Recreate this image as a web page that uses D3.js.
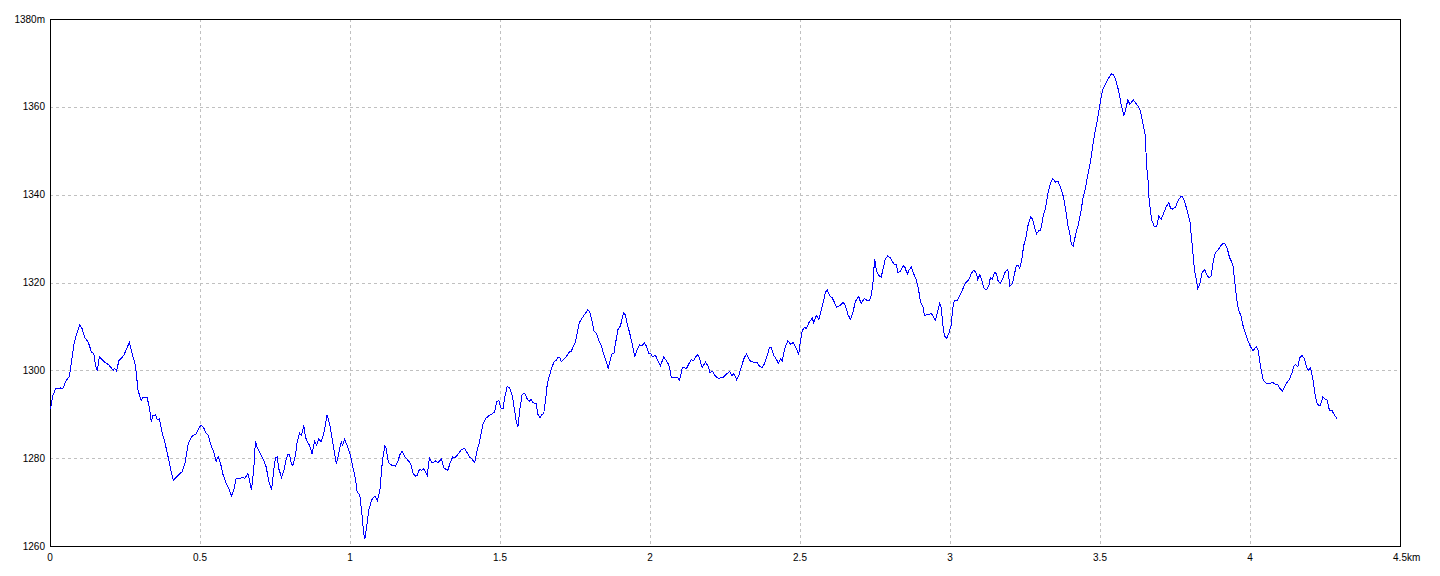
<!DOCTYPE html>
<html>
<head>
<meta charset="utf-8">
<script src="https://cdn.jsdelivr.net/npm/d3@7"></script>
<style>
  html, body { margin: 0; padding: 0; background: #fff; }
  svg { display: block; }
  text { font-family: "Liberation Sans", "DejaVu Sans", sans-serif; font-size: 10px; fill: #000; }
</style>
</head>
<body>
<svg id="chart" width="1440" height="576"></svg>
<script>
// distance along route (km)
const distanceKm = [
0,0.008,0.017,0.033,0.041,0.052,0.063,0.070,0.078,0.089,0.098,0.106,0.114,0.126,0.137,0.144,0.150,0.156,0.163,0.178,0.194,0.209,0.214,0.220,0.228,0.244,0.256,0.263,0.274,0.283,0.292,0.302,0.308,0.322,0.330,0.336,0.341,0.350,0.356,0.363,0.372,0.381,0.392,0.400,0.409,0.420,0.431,0.439,0.448,0.459,0.472,0.486,0.494,0.502,0.511,0.517,0.526,0.533,0.544,0.552,0.559,0.567,0.574,0.586,0.594,0.603,0.611,0.619,0.633,0.641,0.648,0.658,0.663,0.670,0.678,0.683,0.689,0.700,0.711,0.719,0.728,0.737,
0.744,0.750,0.756,0.761,0.770,0.778,0.786,0.792,0.797,0.803,0.808,0.817,0.822,0.830,0.837,0.844,0.850,0.856,0.864,0.872,0.880,0.887,0.894,0.902,0.911,0.922,0.930,0.939,0.947,0.953,0.961,0.969,0.974,0.980,0.989,1.000,1.008,1.017,1.022,1.031,1.039,1.044,1.048,1.053,1.061,1.070,1.078,1.083,1.089,1.098,1.106,1.114,1.119,1.126,1.137,1.150,1.159,1.164,1.172,1.181,1.192,1.200,1.209,1.217,1.222,1.230,1.237,1.244,1.250,1.256,1.263,1.272,1.283,1.292,1.303,1.311,1.324,1.333,1.341,1.348,1.356,1.369,1.380,1.389,1.397,1.406,1.414,1.422,1.430,
1.442,1.450,1.461,1.472,1.480,1.487,1.494,1.502,1.509,1.513,1.522,1.531,1.539,1.548,1.553,1.558,1.564,1.572,1.581,1.589,1.596,1.602,1.609,1.619,1.624,1.631,1.639,1.644,1.650,1.656,1.663,1.670,1.678,1.687,1.692,1.698,1.703,1.711,1.719,1.728,1.736,1.742,1.750,1.756,1.763,1.772,1.780,1.787,1.791,1.798,1.806,1.811,1.820,1.828,1.836,1.842,1.850,1.859,1.864,1.872,1.878,1.883,1.891,1.900,1.906,1.911,1.917,1.922,1.930,1.939,1.948,1.956,1.964,1.972,1.980,1.987,1.994,2.000,2.006,2.017,2.024,2.033,2.044,2.056,2.063,2.069,2.083,2.091,2.097,2.106,2.113,2.120,2.128,2.136,2.142,2.156,2.163,
2.172,2.183,2.191,2.198,2.208,2.217,2.228,2.244,2.253,2.264,2.272,2.278,2.287,2.294,2.302,2.311,2.320,2.331,2.342,2.356,2.364,2.372,2.380,2.389,2.397,2.403,2.411,2.420,2.426,2.433,2.439,2.447,2.458,2.467,2.476,2.483,2.489,2.494,2.500,2.506,2.513,2.520,2.528,2.539,2.544,2.553,2.561,2.567,2.576,2.583,2.589,2.598,2.606,2.613,2.620,2.631,2.642,2.650,2.658,2.667,2.676,2.683,2.694,2.702,2.713,2.722,2.730,2.737,2.742,2.747,2.753,2.761,2.769,2.776,2.783,2.791,2.800,2.808,2.814,2.820,2.824,2.833,2.842,2.847,2.856,2.861,2.869,2.878,2.887,2.894,
2.900,2.909,2.913,2.922,2.937,2.944,2.950,2.958,2.964,2.969,2.976,2.980,2.987,2.994,3.002,3.008,3.013,3.022,3.031,3.039,3.048,3.056,3.063,3.069,3.078,3.087,3.091,3.098,3.106,3.111,3.119,3.128,3.133,3.139,3.147,3.153,3.159,3.167,3.174,3.183,3.191,3.198,3.206,3.211,3.219,3.226,3.231,3.237,3.244,3.252,3.258,3.267,3.273,3.280,3.287,3.294,3.300,
3.309,3.317,3.324,3.333,3.341,3.350,3.358,3.367,3.376,3.383,3.391,3.398,3.403,3.409,3.417,3.426,3.433,3.442,3.450,3.458,3.467,3.474,3.481,3.489,3.498,3.506,3.514,3.522,3.531,3.537,3.544,3.550,3.558,3.563,3.569,3.578,3.583,3.591,3.598,3.609,3.617,3.626,3.633,3.639,3.644,3.650,3.653,3.658,3.661,3.667,3.672,3.680,3.687,3.694,3.702,3.711,3.720,3.728,3.733,3.741,3.750,3.758,3.767,3.772,3.780,3.789,
3.798,3.806,3.813,3.820,3.824,3.831,3.839,3.847,3.853,3.861,3.869,3.876,3.883,3.891,3.900,3.908,3.914,3.922,3.930,3.936,3.942,3.950,3.956,3.961,3.969,3.976,3.983,3.992,4.000,4.008,4.013,4.019,4.026,4.031,4.037,4.042,4.050,4.061,4.072,4.083,4.091,4.098,4.106,4.113,4.122,4.131,4.139,4.144,4.150,4.158,4.164,4.172,4.180,4.187,4.194,4.200,4.203,4.209,4.214,4.220,4.228,4.233,4.241,4.248,4.256,4.263,4.272,4.280,4.289
];
// elevation (m)
const elevationM = [
1291.3,1294.4,1295.9,1296.1,1295.9,1297.8,1298.7,1302.0,1306.1,1308.8,1310.5,1309.5,1307.6,1306.5,1304.2,1304.0,1301.2,1300.0,1303.2,1302.1,1301.4,1300.1,1300.6,1300.0,1302.3,1303.5,1305.4,1306.5,1303.5,1301.2,1295.5,1293.3,1294.0,1294.0,1291.4,1288.3,1289.8,1290.0,1288.9,1289.1,1286.0,1283.8,1280.4,1277.7,1275.1,1275.8,1276.6,1277.0,1278.9,1283.4,1285.1,1285.7,1286.8,1287.7,1287.0,1286.0,1285.3,1283.4,1281.5,1279.4,1280.4,1278.9,1276.6,1274.3,1273.2,1271.5,1272.8,1275.6,1275.5,1275.8,1275.5,1276.7,1275.1,1272.8,1278.1,1284.0,1282.6,1281.1,1279.6,1278.1,1274.7,1273.0,
1277.3,1280.2,1280.4,1277.7,1275.8,1277.3,1280.0,1281.1,1280.8,1278.7,1278.5,1280.8,1283.8,1285.8,1285.3,1287.6,1284.9,1283.8,1283.0,1281.0,1284.0,1283.0,1284.5,1283.8,1285.7,1290.0,1288.0,1284.5,1281.1,1278.7,1281.3,1283.8,1283.0,1284.4,1283.0,1280.8,1278.1,1275.1,1272.4,1271.7,1266.7,1263.0,1261.8,1264.1,1268.3,1270.5,1271.3,1271.4,1270.4,1272.8,1279.2,1282.9,1282.3,1279.2,1278.5,1278.3,1279.6,1280.8,1281.7,1280.4,1279.6,1278.9,1276.6,1276.0,1276.1,1277.6,1277.3,1277.7,1277.0,1276.2,1280.2,1279.0,1279.5,1279.1,1279.9,1277.9,1277.3,1279.2,1280.4,1280.2,1280.8,1282.0,1282.4,1281.3,1280.4,1279.8,1279.2,1281.9,1283.8,
1288.0,1289.1,1289.8,1290.2,1290.6,1292.9,1293.3,1291.4,1291.4,1293.6,1296.4,1296.1,1294.4,1290.6,1288.3,1287.2,1291.0,1294.6,1294.9,1293.6,1293.1,1293.5,1292.7,1292.6,1290.2,1289.3,1290.1,1290.2,1293.3,1297.0,1298.9,1300.5,1302.0,1302.5,1303.1,1302.9,1302.1,1302.7,1303.2,1304.2,1304.5,1305.4,1306.5,1308.8,1311.0,1312.0,1312.8,1313.5,1313.9,1313.3,1311.0,1309.2,1308.4,1306.9,1305.8,1304.2,1302.6,1300.6,1302.0,1304.0,1304.0,1306.1,1309.3,1310.3,1312.0,1313.3,1312.6,1310.7,1308.8,1306.1,1303.2,1305.0,1305.9,1305.8,1306.4,1305.5,1303.9,1304.0,1303.2,1303.5,1302.3,1301.2,1303.1,1302.0,1301.0,1298.5,1298.5,1298.4,1297.9,1300.7,1300.7,1300.5,1301.6,1302.6,1302.2,1303.7,1303.0,
1300.7,1302.0,1301.2,1299.7,1299.8,1298.7,1298.3,1298.6,1299.3,1299.8,1298.9,1299.4,1298.0,1298.9,1300.7,1302.7,1303.9,1302.3,1302.0,1301.8,1301.0,1300.7,1301.6,1303.5,1305.4,1305.3,1303.5,1302.6,1301.7,1302.7,1302.3,1305.0,1306.9,1306.0,1306.5,1305.4,1304.6,1303.7,1306.9,1309.2,1309.9,1309.6,1311.0,1312.0,1311.0,1312.6,1311.7,1313.3,1315.6,1317.9,1318.4,1317.1,1316.6,1315.6,1314.5,1314.8,1315.6,1314.8,1312.8,1311.7,1313.7,1315.8,1316.9,1315.3,1316.5,1316.0,1316.0,1317.5,1320.5,1325.5,1322.8,1321.7,1321.3,1323.5,1325.5,1326.2,1325.7,1324.7,1324.2,1324.2,1322.4,1322.6,1323.9,1323.8,1322.0,1322.8,1323.7,1322.0,1320.5,1318.3,
1315.6,1314.5,1312.6,1312.8,1313.0,1312.2,1311.5,1313.7,1315.4,1314.5,1309.5,1308.0,1307.4,1308.4,1310.3,1314.5,1316.0,1316.0,1317.2,1318.3,1319.8,1320.4,1321.0,1322.1,1323.0,1322.1,1320.8,1322.0,1320.2,1318.9,1318.4,1319.4,1321.3,1320.8,1322.4,1322.1,1320.4,1320.0,1321.0,1322.6,1323.2,1319.4,1319.8,1321.3,1323.9,1323.9,1323.4,1325.1,1328.5,1330.5,1333.0,1335.1,1334.6,1332.7,1331.2,1331.9,1331.9,
1335.2,1337.1,1340.1,1342.8,1343.8,1343.0,1343.2,1341.8,1339.7,1337.1,1333.3,1331.0,1328.7,1328.4,1331.0,1333.3,1335.6,1339.4,1341.7,1344.7,1347.8,1351.2,1354.2,1356.9,1360.7,1363.7,1365.0,1366.1,1367.1,1367.7,1367.3,1366.5,1364.4,1362.8,1360.6,1358.1,1359.2,1361.7,1360.7,1361.7,1361.0,1360.2,1359.2,1357.2,1355.3,1353.4,1347.0,1343.9,1339.8,1336.0,1334.1,1332.8,1332.8,1335.2,1334.5,1336.0,1337.5,1338.3,1337.1,1336.8,1337.3,1338.7,1339.6,1339.8,1338.7,1336.4,
1334.1,1328.4,1323.1,1320.5,1318.7,1319.8,1322.4,1323.1,1322.0,1321.2,1321.6,1325.0,1326.9,1327.4,1328.4,1329.0,1329.0,1328.0,1325.8,1325.0,1323.9,1318.7,1315.3,1313.8,1312.3,1310.0,1308.5,1306.8,1305.5,1304.6,1305.0,1305.5,1304.7,1302.1,1299.7,1298.0,1297.3,1297.0,1297.4,1297.0,1296.8,1296.0,1295.4,1296.3,1297.4,1298.2,1299.7,1301.0,1301.4,1301.0,1303.0,1303.5,1302.7,1300.8,1300.1,1300.7,1299.7,1297.8,1295.1,1292.9,1292.0,1292.1,1294.0,1293.6,1293.3,1291.0,1290.9,1289.9,1289.1
];
const xTickValues = [0, 0.5, 1, 1.5, 2, 2.5, 3, 3.5, 4, 4.5];
const xTickLabels = ["0", "0.5", "1", "1.5", "2", "2.5", "3", "3.5", "4", "4.5"];
const yTickValues = [1260, 1280, 1300, 1320, 1340, 1360, 1380];
const yTickLabels = ["1260", "1280", "1300", "1320", "1340", "1360", "1380m"];
const xUnit = "km";

const svg = d3.select("#chart");
const pLeft = 50, pRight = 1400, pTop = 19, pBottom = 546;

const x = d3.scaleLinear().domain([0, 4.5]).range([pLeft, pRight]);
const y = d3.scaleLinear().domain([1260, 1380]).range([pBottom, pTop]);

// grid
const grid = svg.append("g").attr("shape-rendering", "crispEdges")
  .attr("stroke", "#c0c0c0").attr("stroke-width", 1).attr("stroke-dasharray", "3,3");
grid.selectAll("line.v").data(xTickValues.slice(1, -1)).join("line").attr("class", "v")
  .attr("x1", d => Math.round(x(d)) + 0.5).attr("x2", d => Math.round(x(d)) + 0.5)
  .attr("y1", pTop).attr("y2", pBottom);
grid.selectAll("line.h").data(yTickValues.slice(1, -1)).join("line").attr("class", "h")
  .attr("y1", d => Math.round(y(d)) + 0.5).attr("y2", d => Math.round(y(d)) + 0.5)
  .attr("x1", pLeft).attr("x2", pRight);

// frame
svg.append("rect").attr("x", pLeft + 0.5).attr("y", pTop + 0.5)
  .attr("width", pRight - pLeft).attr("height", pBottom - pTop)
  .attr("fill", "none").attr("stroke", "#000").attr("stroke-width", 1)
  .attr("shape-rendering", "crispEdges");

// line
const pts = distanceKm.map((d, i) => [d, elevationM[i]]).filter(p => p[1] !== undefined);
svg.append("path").datum(pts)
  .attr("fill", "none").attr("stroke", "#0000ff").attr("stroke-width", 1)
  .attr("shape-rendering", "crispEdges")
  .attr("d", d3.line().x(d => x(d[0]) + 0.5).y(d => y(d[1]) + 0.5));

// y labels
svg.append("g").selectAll("text").data(yTickValues).join("text")
  .attr("x", 45).attr("y", d => y(d)).attr("dy", "0.36em")
  .attr("text-anchor", "end")
  .text((d, i) => yTickLabels[i]);

// x labels
const xl = svg.append("g");
xTickValues.forEach((v, i) => {
  const t = xl.append("text").attr("y", 561).attr("text-anchor", "middle")
    .attr("x", x(v)).text(xTickLabels[i]);
  if (i === xTickValues.length - 1) {
    const w = t.node().getComputedTextLength();
    t.attr("text-anchor", "start").attr("x", x(v) - w / 2).text(xTickLabels[i] + xUnit);
  }
});
</script>
</body>
</html>
